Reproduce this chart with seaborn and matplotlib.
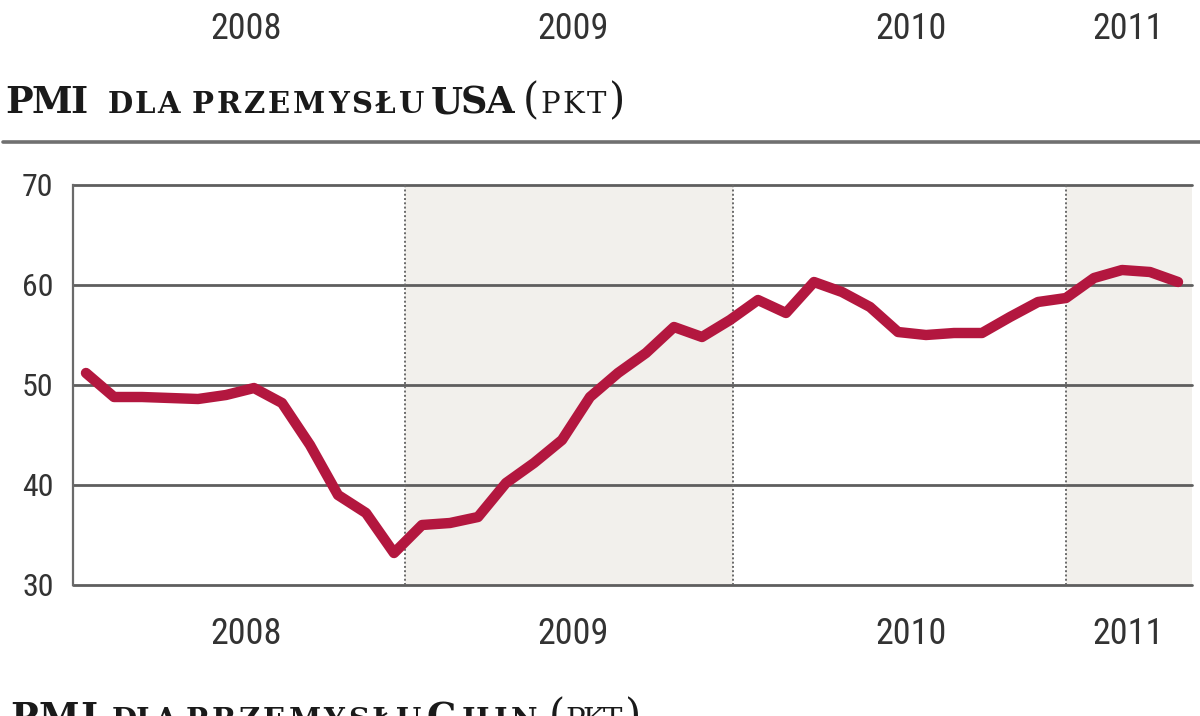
import numpy as np
import pandas as pd
import seaborn as sns
import matplotlib.pyplot as plt
from matplotlib.lines import Line2D
from matplotlib.transforms import blended_transform_factory
from matplotlib import font_manager as fm

# ---- data (US manufacturing PMI, monthly, Jan 2008 - Apr 2011) ----
pmi_2008 = [51.2, 48.8, 48.8, 48.7, 48.6, 49.0, 49.7, 48.2, 44.0, 39.0, 37.2, 33.2]
pmi_2009 = [36.0, 36.2, 36.8, 40.2, 42.2, 44.5, 48.8, 51.2, 53.2, 55.8, 54.8, 56.5]
pmi_2010 = [58.5, 57.2, 60.3, 59.3, 57.8, 55.3, 55.0, 55.2, 55.2, 56.8, 58.3, 58.7]
pmi_2011 = [60.7, 61.5, 61.3, 60.3]
year_labels = ["2008", "2009", "2010", "2011"]
year_label_pos = [5.71, 17.39, 29.46, 37.21]     # month index of label centres
year_bounds = [11.39, 23.1, 35.0]                 # dotted year separators
y_ticks = [30, 40, 50, 60, 70]

values = pmi_2008 + pmi_2009 + pmi_2010 + pmi_2011
df = pd.DataFrame({"month": np.arange(len(values)), "pmi": values})

# ---- style ----
sns.set_theme(style="white")
plt.rcParams["font.family"] = ["DejaVu Sans"]

# pick a narrow sans font if one is installed
narrow_fp = None
prefs = ["LiberationSansNarrow-Regular", "RobotoCondensed-Regular",
         "Roboto_Condensed", "DejaVuSansCondensed.ttf", "Condensed-Regular",
         "Narrow-Regular", "Condensed"]
files = [f.fname for f in fm.fontManager.ttflist]
for p in prefs:
    hits = [f for f in files if p in f.split("/")[-1] and "Bold" not in f
            and "Oblique" not in f and "Italic" not in f]
    if hits:
        narrow_fp = fm.FontProperties(fname=sorted(hits)[0])
        break
if narrow_fp is None:
    narrow_fp = fm.FontProperties(family="DejaVu Sans", stretch="condensed")

W, H = 1200, 716
fig = plt.figure(figsize=(W / 100, H / 100), dpi=100)
fig.patch.set_facecolor("white")
renderer = fig.canvas.get_renderer()

def fx(px):
    return px / W

def fy(py):
    return 1 - py / H

ax = fig.add_axes([fx(73), fy(585), fx(1192) - fx(73), fy(185) - fy(585)])
ax.set_facecolor("white")

xmin, xmax = -0.464, 39.5
ax.set_xlim(xmin, xmax)
ax.set_ylim(30, 70)

# shaded years (2009, 2011)
ax.axvspan(year_bounds[0], year_bounds[1], color="#f2f0ec", zorder=0, lw=0)
ax.axvspan(year_bounds[2], xmax, color="#f2f0ec", zorder=0, lw=0)

# horizontal grid
for yv in y_ticks:
    ax.axhline(yv, color="#5e5e5e", lw=2.0, zorder=1, clip_on=False)
# dotted year separators
for xb in year_bounds:
    ax.axvline(xb, color="#6a6a6a", lw=1.4, ls=(0, (1, 1.2)), zorder=1)

sns.lineplot(data=df, x="month", y="pmi", ax=ax, color="#b3173f",
             linewidth=7.5, zorder=3)
ln = ax.lines[-1]
ln.set_solid_joinstyle("round")
ln.set_solid_capstyle("round")

for s in ["top", "right", "bottom"]:
    ax.spines[s].set_visible(False)
ax.spines["left"].set_color("#6a6a6a")
ax.spines["left"].set_linewidth(1.6)

ax.set_yticks(y_ticks)
ax.set_yticklabels([str(v) for v in y_ticks])
ax.set_xticks(year_label_pos)
ax.set_xticklabels(year_labels)
ax.tick_params(axis="y", length=0, pad=14)
ax.tick_params(axis="x", length=0, pad=22)
for t in ax.get_yticklabels():
    t.set_fontproperties(narrow_fp)
    t.set_fontsize(23)
    t.set_color("#333333")
for t in ax.get_xticklabels():
    t.set_fontproperties(narrow_fp)
    t.set_fontsize(26)
    t.set_color("#333333")
ax.set_xlabel("")
ax.set_ylabel("")
ax.grid(False)

# year labels at the very top (from the chart above)
trans = blended_transform_factory(ax.transData, fig.transFigure)
for lbl, xp in zip(year_labels, year_label_pos):
    fig.text(xp, fy(29), lbl, transform=trans, ha="center", va="center",
             fontproperties=narrow_fp, fontsize=26, color="#333333")

# ---- titles (small caps imitated with two sizes, letter-spaced) ----
serif = ["DejaVu Serif"]

def tracked(txt, x0, x1, base_py, size, weight):
    """Place txt letter by letter so that it spans x0..x1 pixels."""
    arts = [fig.text(0, fy(base_py), ch, ha="left", va="baseline", fontsize=size,
                     fontweight=weight, family=serif, color="#1a1a1a") for ch in txt]
    widths = [a.get_window_extent(renderer).width for a in arts]
    total = sum(widths)
    gap = (x1 - x0 - total) / (len(txt) - 1) if len(txt) > 1 else 0
    gap = min(max(gap, -2), 4)
    x = x0
    for a, w in zip(arts, widths):
        a.set_x(fx(x))
        x += w + gap

BIG, SMALL = 26.5, 21
def title(pieces, base_py):
    for txt, x0, x1, size, weight in pieces:
        tracked(txt, x0, x1, base_py, size, weight)

title([("PMI", 5, 88, BIG, "bold"),
       ("DLA", 108, 180, SMALL, "bold"),
       ("PRZEMYSŁU", 192, 424, SMALL, "bold"),
       ("USA", 431, 514, BIG, "bold"),
       ("(", 523, 535, 30, "light"),
       ("PKT", 540, 606, SMALL, "normal"),
       (")", 609, 622, 30, "light")], 113)

fig.add_artist(Line2D([fx(3), 1.0], [fy(142), fy(142)], transform=fig.transFigure,
                      color="#707070", lw=2.6))

title([("PMI", 10, 98, BIG, "bold"),
       ("DLA", 112, 177, SMALL, "bold"),
       ("PRZEMYSŁU", 186, 421, SMALL, "bold"),
       ("C", 427, 460, BIG, "bold"),
       ("HIN", 462, 543, SMALL, "bold"),
       ("(", 549, 561, 30, "light"),
       ("PKT", 565, 621, SMALL, "normal"),
       (")", 625, 638, 30, "light")], 729)

fig.savefig("out.png", dpi=100, facecolor="white")
